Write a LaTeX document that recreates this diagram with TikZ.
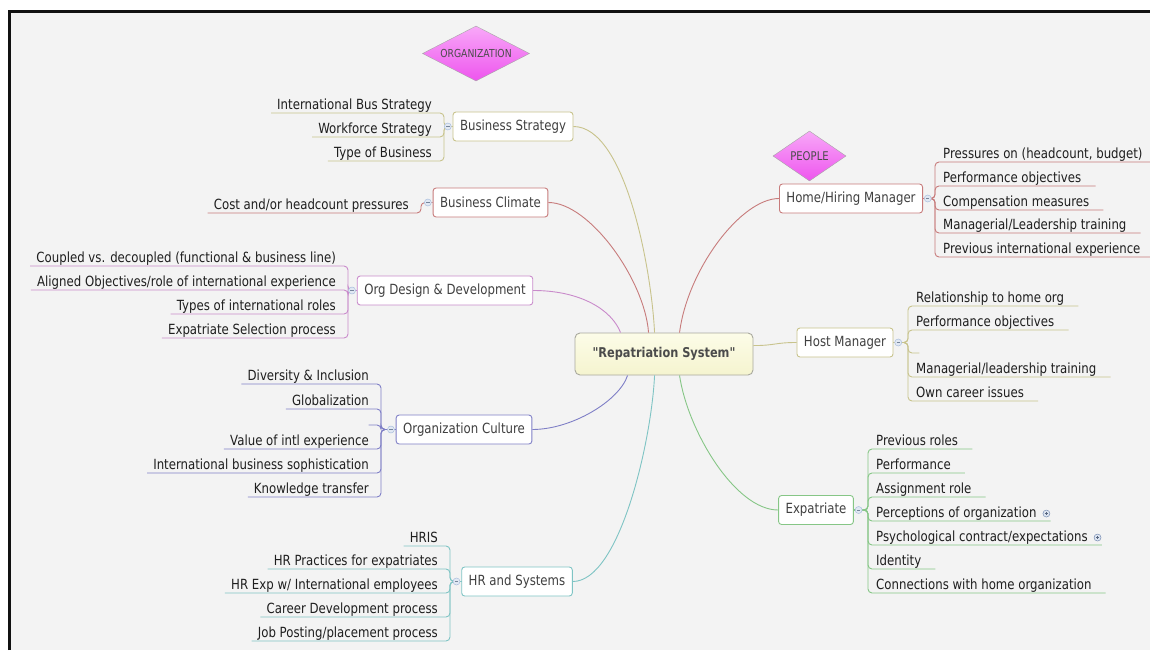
\documentclass[tikz,border=0pt]{standalone}
\usepackage{fontspec}
\setmainfont{DejaVu Sans}[FakeStretch=0.84, Ligatures=TeXOff]
\usepackage{tikz}
\usetikzlibrary{shapes.geometric, positioning, calc}
\usepackage{xcolor}
\definecolor{mBg}     {HTML}{F3F3F3}
\definecolor{mFrame}  {HTML}{111111}
\definecolor{mInk}    {HTML}{1E1E1E}
\definecolor{mOlive}  {HTML}{C8C38C}
\definecolor{mRose}   {HTML}{C77B7B}
\definecolor{mOrchid} {HTML}{C98BCB}
\definecolor{mSlate}  {HTML}{7F7FC6}
\definecolor{mTeal}   {HTML}{7FC4C4}
\definecolor{mGreen}  {HTML}{86C686}
\definecolor{mKnob}   {HTML}{A9BEDD}
\definecolor{mPlus}   {HTML}{7C90B5}
\definecolor{mPinkTop}{HTML}{F8A8F8}
\definecolor{mPinkBot}{HTML}{EE55EE}
\definecolor{mRsTop}  {HTML}{FCFCE8}
\definecolor{mRsBot}  {HTML}{F5F4CF}
\definecolor{mRsLine} {HTML}{A9A99E}

\begin{document}
\begin{tikzpicture}[x=1pt, y=-1pt,
    every node/.style={font=\fontsize{14}{16}\selectfont, text=mInk},
    topic/.style={draw, fill=white, rounded corners=3pt, line width=0.9pt,
                  minimum height=29pt, inner xsep=7pt, text=mInk!85},
    leaf/.style={inner ysep=0.5pt, text height=10.5pt, text depth=3pt},
    leafL/.style={leaf, anchor=south east, inner xsep=6pt,
                  execute at end node=\hspace{6pt}},
    leafR/.style={leaf, anchor=south west, inner xsep=8pt,
                  execute at end node=\hspace{6pt}},
    branch/.style={line width=0.9pt, rounded corners=4pt},
    tag/.style={diamond, draw=gray!70, top color=mPinkTop, bottom color=mPinkBot,
                inner sep=0pt, text=mInk!80},
    knob/.style={circle, draw=mKnob, fill=mKnob!35, minimum size=7pt, inner sep=0pt,
                 line width=0.5pt, path picture={
                 \draw[mKnob!70!black, line width=0.4pt]
                   ([xshift=1.8pt]path picture bounding box.west) --
                   ([xshift=-1.8pt]path picture bounding box.east);}},
    plusknob/.style={circle, draw=mPlus, fill=mKnob!40, minimum size=7pt, inner sep=0pt,
                 line width=0.5pt, path picture={
                 \draw[mPlus!70!black, line width=0.4pt]
                   ([xshift=1.8pt]path picture bounding box.west) --
                   ([xshift=-1.8pt]path picture bounding box.east)
                   ([yshift=-1.8pt]path picture bounding box.north) --
                   ([yshift=1.8pt]path picture bounding box.south);}}]
  \useasboundingbox (0,0) rectangle (1150,650);
  \fill[white] (0,0) rectangle (1150,650);
  \fill[mBg] (9.5,11.5) rectangle (1150,650);
  \draw[mFrame, line width=3pt] (9.5,650) -- (9.5,11.5) -- (1150,11.5);

  % centre and the two tags
  \node[draw=mRsLine, top color=mRsTop, bottom color=mRsBot, rounded corners=5pt,
        line width=0.9pt, minimum width=178pt, minimum height=42pt,
        font=\bfseries\fontsize{13.5}{16}\selectfont, text=mInk!80] (rs) at (664,354)
        {"Repatriation System"};
  \node[tag, aspect=2, minimum width=107pt, minimum height=55pt,
        font=\fontsize{11}{13}\selectfont] (org) at (476,53.5) {ORGANIZATION};
  \node[tag, aspect=1.5, minimum width=73pt, minimum height=50pt,
        font=\fontsize{12}{14}\selectfont] (ppl) at (809.5,156) {PEOPLE};

  \coordinate (rsT1) at ($(rs.north west)+(46,0)$);
  \coordinate (rsT2) at ($(rs.north west)+(74,0)$);
  \coordinate (rsT3) at ($(rs.north west)+(80,0)$);
  \coordinate (rsT4) at ($(rs.north west)+(105,0)$);
  \coordinate (rsB1) at ($(rs.south west)+(53,0)$);
  \coordinate (rsB2) at ($(rs.south west)+(80,0)$);
  \coordinate (rsB3) at ($(rs.south west)+(105,0)$);
  \coordinate (rsR)  at ($(rs.north east)+(0,13)$);

  % main topics
  \node[topic, draw=mOlive]  (bs)   at (513,126.5) {Business Strategy};
  \node[topic, draw=mRose]   (bc)   at (490.5,202.5) {Business Climate};
  \node[topic, draw=mOrchid] (od)   at (445,290.5) {Org Design \& Development};
  \node[topic, draw=mSlate]  (oc)   at (464,429.5) {Organization Culture};
  \node[topic, draw=mTeal]   (hr)   at (517,581.5) {HR and Systems};
  \node[topic, draw=mRose]   (hm)   at (851,198.5) {Home/Hiring Manager};
  \node[topic, draw=mOlive]  (host) at (845,342.5) {Host Manager};
  \node[topic, draw=mGreen]  (ex)   at (816,510) {Expatriate};

  % leaves, left side
  \node[leafL] (bs1) at (444,113) {International Bus Strategy};
  \node[leafL] (bs2) at (444,137) {Workforce Strategy};
  \node[leafL] (bs3) at (444,161) {Type of Business};

  \node[leafL] (bc1) at (421,213) {Cost and/or headcount pressures};

  \node[leafL] (od1) at (348,266) {Coupled vs. decoupled (functional \& business line)};
  \node[leafL] (od2) at (348,290) {Aligned Objectives/role of international experience};
  \node[leafL] (od3) at (348,314) {Types of international roles};
  \node[leafL] (od4) at (348,338) {Expatriate Selection process};

  \node[leafL] (oc1) at (381,384) {Diversity \& Inclusion};
  \node[leafL] (oc2) at (381,409) {Globalization};
  \node[leafL, inner xsep=3pt] (oc3) at (381,425) {};
  \node[leafL] (oc4) at (381,449) {Value of intl experience};
  \node[leafL] (oc5) at (381,473) {International business sophistication};
  \node[leafL] (oc6) at (381,497) {Knowledge transfer};

  \node[leafL] (hr1) at (450,546) {HRIS};
  \node[leafL] (hr2) at (450,569) {HR Practices for expatriates};
  \node[leafL] (hr3) at (450,593) {HR Exp w/ International employees};
  \node[leafL] (hr4) at (450,617) {Career Development process};
  \node[leafL] (hr5) at (450,641) {Job Posting/placement process};

  % leaves, right side
  \node[leafR] (hm1) at (935,162) {Pressures on (headcount, budget)};
  \node[leafR] (hm2) at (935,186) {Performance objectives};
  \node[leafR] (hm3) at (935,210) {Compensation measures};
  \node[leafR] (hm4) at (935,233) {Managerial/Leadership training};
  \node[leafR] (hm5) at (935,257) {Previous international experience};

  \node[leafR] (ho1) at (908,306) {Relationship to home org};
  \node[leafR] (ho2) at (908,330) {Performance objectives};
  \node[leafR, inner xsep=2.5pt] (ho3) at (908,353) {};
  \node[leafR] (ho4) at (908,377) {Managerial/leadership training};
  \node[leafR] (ho5) at (908,401) {Own career issues};

  \node[leafR] (ex1) at (868,449) {Previous roles};
  \node[leafR] (ex2) at (868,473) {Performance};
  \node[leafR] (ex3) at (868,497) {Assignment role};
  \node[leafR] (ex4) at (868,521) {Perceptions of organization};
  \node[leafR] (ex5) at (868,545) {Psychological contract/expectations};
  \node[leafR] (ex6) at (868,569) {Identity};
  \node[leafR] (ex7) at (868,593) {Connections with home organization};

  % centre to topics
  \draw[line width=0.9pt, mOlive]  (bs.east) .. controls +(52,0) and +(-3,-63) .. (rsT3);
  \draw[line width=0.9pt, mRose]   (bc.east) .. controls +(41,0) and +(-4,-53) .. (rsT2);
  \draw[line width=0.9pt, mOrchid] (od.east) .. controls +(47,0) and +(-9,-23) .. (rsT1);
  \draw[line width=0.9pt, mSlate]  (oc.east) .. controls +(40,0) and +(-8,25) .. (rsB1);
  \draw[line width=0.9pt, mTeal]   (hr.east) .. controls +(47,0) and +(-3,65) .. (rsB2);
  \draw[line width=0.9pt, mRose]   (hm.west) .. controls +(-38,0) and +(8,-63) .. (rsT4);
  \draw[line width=0.9pt, mGreen]  (ex.west) .. controls +(-43,0) and +(8,55) .. (rsB3);
  \draw[line width=0.9pt, mOlive]  (rsR) .. controls +(22,0) and +(-22,0) .. (host.west);

  % topics to leaves
  \draw[branch, mOlive] (bs.west) -| (bs1.south east) -- (bs1.south west);
  \draw[branch, mOlive] (bs.west) -| (bs2.south east) -- (bs2.south west);
  \draw[branch, mOlive] (bs.west) -| (bs3.south east) -- (bs3.south west);

  \draw[branch, mRose] (bc.west) -| (bc1.south east) -- (bc1.south west);

  \draw[branch, mOrchid] (od.west) -| (od1.south east) -- (od1.south west);
  \draw[branch, mOrchid] (od.west) -| (od2.south east) -- (od2.south west);
  \draw[branch, mOrchid] (od.west) -| (od3.south east) -- (od3.south west);
  \draw[branch, mOrchid] (od.west) -| (od4.south east) -- (od4.south west);

  \draw[branch, mSlate] (oc.west) -| (oc1.south east) -- (oc1.south west);
  \draw[branch, mSlate] (oc.west) -| (oc2.south east) -- (oc2.south west);
  \draw[branch, mSlate] (oc.west) -| (oc3.south east) -- (oc3.south west);
  \draw[branch, mSlate] (oc.west) -| (oc4.south east) -- (oc4.south west);
  \draw[branch, mSlate] (oc.west) -| (oc5.south east) -- (oc5.south west);
  \draw[branch, mSlate] (oc.west) -| (oc6.south east) -- (oc6.south west);

  \draw[branch, mTeal] (hr.west) -| (hr1.south east) -- (hr1.south west);
  \draw[branch, mTeal] (hr.west) -| (hr2.south east) -- (hr2.south west);
  \draw[branch, mTeal] (hr.west) -| (hr3.south east) -- (hr3.south west);
  \draw[branch, mTeal] (hr.west) -| (hr4.south east) -- (hr4.south west);
  \draw[branch, mTeal] (hr.west) -| (hr5.south east) -- (hr5.south west);

  \draw[branch, mRose] (hm.east) -| (hm1.south west) -- (hm1.south east);
  \draw[branch, mRose] (hm.east) -| (hm2.south west) -- (hm2.south east);
  \draw[branch, mRose] (hm.east) -| (hm3.south west) -- (hm3.south east);
  \draw[branch, mRose] (hm.east) -| (hm4.south west) -- (hm4.south east);
  \draw[branch, mRose] (hm.east) -| (hm5.south west) -- (hm5.south east);

  \draw[branch, mOlive] (host.east) -| (ho1.south west) -- (ho1.south east);
  \draw[branch, mOlive] (host.east) -| (ho2.south west) -- (ho2.south east);
  \draw[branch, mOlive] (host.east) -| (ho3.south west) -- (ho3.south east);
  \draw[branch, mOlive] (host.east) -| (ho4.south west) -- (ho4.south east);
  \draw[branch, mOlive] (host.east) -| (ho5.south west) -- (ho5.south east);

  \draw[branch, mGreen] (ex.east) -| (ex1.south west) -- (ex1.south east);
  \draw[branch, mGreen] (ex.east) -| (ex2.south west) -- (ex2.south east);
  \draw[branch, mGreen] (ex.east) -| (ex3.south west) -- (ex3.south east);
  \draw[branch, mGreen] (ex.east) -| (ex4.south west) -- (ex4.south east);
  \draw[branch, mGreen] (ex.east) -| (ex5.south west) -- (ex5.south east);
  \draw[branch, mGreen] (ex.east) -| (ex6.south west) -- (ex6.south east);
  \draw[branch, mGreen] (ex.east) -| (ex7.south west) -- (ex7.south east);

  % fold knobs
  \node[knob, left=1pt of bs]    (bsk) {};
  \node[knob, left=1pt of bc]    (bck) {};
  \node[knob, left=1pt of od]    (odk) {};
  \node[knob, left=1pt of oc]    (ock) {};
  \node[knob, left=1pt of hr]    (hrk) {};
  \node[knob, right=1pt of hm]   (hmk) {};
  \node[knob, right=1pt of host] (hok) {};
  \node[knob, right=1pt of ex]   (exk) {};
  \node[plusknob, right=-8pt of ex4] (ex4k) {};
  \node[plusknob, right=-8pt of ex5] (ex5k) {};
\end{tikzpicture}
\end{document}
